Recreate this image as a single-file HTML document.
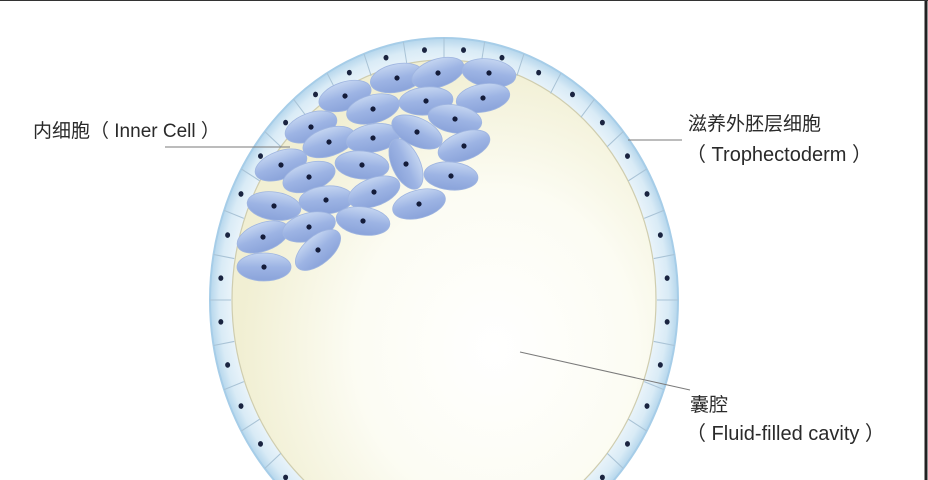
<!DOCTYPE html>
<html><head><meta charset="utf-8"><style>
html,body{margin:0;padding:0;background:#fff;width:928px;height:480px;overflow:hidden}
svg{display:block}
text{font-family:"Liberation Sans","Noto Sans CJK SC",sans-serif;fill:#2a2a2a}
</style></head><body>
<svg width="928" height="480" viewBox="0 0 928 480">
<defs>
<radialGradient id="cav" cx="0.62" cy="0.6" r="0.6">
<stop offset="0" stop-color="#ffffff"/><stop offset="0.55" stop-color="#fcfcf3"/><stop offset="1" stop-color="#f1efd3"/>
</radialGradient>
<radialGradient id="ring" cx="0.5" cy="0.5" r="0.5">
<stop offset="0.88" stop-color="#f2f8fc"/><stop offset="0.96" stop-color="#d9ebf6"/><stop offset="1" stop-color="#b5d6ec"/>
</radialGradient>
<linearGradient id="cell" x1="0" y1="0" x2="0" y2="1">
<stop offset="0" stop-color="#c4d5f1"/><stop offset="0.5" stop-color="#9db4e4"/><stop offset="1" stop-color="#8aa3da"/>
</linearGradient>
<line id="dv" x1="213" y1="0" x2="234" y2="0" stroke="#a9c3d6" stroke-width="1"/>
<circle id="dt" cx="224" cy="0" r="2.5" fill="#1a2440"/>
<g id="c"><ellipse rx="27" ry="14" fill="url(#cell)" stroke="#9fb5e0" stroke-width="0.8"/><circle r="2.6" fill="#141c3a"/></g>
</defs>
<ellipse cx="444" cy="300" rx="234" ry="262" fill="url(#ring)" stroke="#a6cde8" stroke-width="2"/>
<ellipse cx="444" cy="300" rx="212" ry="240" fill="url(#cav)" stroke="#cfcdaf" stroke-width="1.2"/>
<g transform="translate(444,300) scale(1,1.12)">
<use href="#dv" transform="rotate(-90)"/><use href="#dv" transform="rotate(-80)"/><use href="#dv" transform="rotate(-70)"/><use href="#dv" transform="rotate(-60)"/><use href="#dv" transform="rotate(-50)"/><use href="#dv" transform="rotate(-40)"/><use href="#dv" transform="rotate(-30)"/><use href="#dv" transform="rotate(-20)"/><use href="#dv" transform="rotate(-10)"/><use href="#dv" transform="rotate(0)"/><use href="#dv" transform="rotate(10)"/><use href="#dv" transform="rotate(20)"/><use href="#dv" transform="rotate(30)"/><use href="#dv" transform="rotate(40)"/><use href="#dv" transform="rotate(50)"/><use href="#dv" transform="rotate(60)"/><use href="#dv" transform="rotate(70)"/><use href="#dv" transform="rotate(80)"/><use href="#dv" transform="rotate(100)"/><use href="#dv" transform="rotate(110)"/><use href="#dv" transform="rotate(120)"/><use href="#dv" transform="rotate(130)"/><use href="#dv" transform="rotate(140)"/><use href="#dv" transform="rotate(150)"/><use href="#dv" transform="rotate(160)"/><use href="#dv" transform="rotate(170)"/><use href="#dv" transform="rotate(180)"/><use href="#dv" transform="rotate(190)"/><use href="#dv" transform="rotate(200)"/><use href="#dv" transform="rotate(210)"/><use href="#dv" transform="rotate(220)"/><use href="#dv" transform="rotate(230)"/><use href="#dv" transform="rotate(240)"/><use href="#dv" transform="rotate(250)"/><use href="#dv" transform="rotate(260)"/>
<use href="#dt" transform="rotate(-85)"/><use href="#dt" transform="rotate(-75)"/><use href="#dt" transform="rotate(-65)"/><use href="#dt" transform="rotate(-55)"/><use href="#dt" transform="rotate(-45)"/><use href="#dt" transform="rotate(-35)"/><use href="#dt" transform="rotate(-25)"/><use href="#dt" transform="rotate(-15)"/><use href="#dt" transform="rotate(-5)"/><use href="#dt" transform="rotate(5)"/><use href="#dt" transform="rotate(15)"/><use href="#dt" transform="rotate(25)"/><use href="#dt" transform="rotate(35)"/><use href="#dt" transform="rotate(45)"/><use href="#dt" transform="rotate(55)"/><use href="#dt" transform="rotate(65)"/><use href="#dt" transform="rotate(75)"/><use href="#dt" transform="rotate(105)"/><use href="#dt" transform="rotate(115)"/><use href="#dt" transform="rotate(125)"/><use href="#dt" transform="rotate(135)"/><use href="#dt" transform="rotate(145)"/><use href="#dt" transform="rotate(155)"/><use href="#dt" transform="rotate(165)"/><use href="#dt" transform="rotate(175)"/><use href="#dt" transform="rotate(185)"/><use href="#dt" transform="rotate(195)"/><use href="#dt" transform="rotate(205)"/><use href="#dt" transform="rotate(215)"/><use href="#dt" transform="rotate(225)"/><use href="#dt" transform="rotate(235)"/><use href="#dt" transform="rotate(245)"/><use href="#dt" transform="rotate(255)"/><use href="#dt" transform="rotate(265)"/>
</g>
<use href="#c" transform="translate(397,78) rotate(-12)"/>
<use href="#c" transform="translate(438,73) rotate(-18)"/>
<use href="#c" transform="translate(489,73) rotate(8)"/>
<use href="#c" transform="translate(345,96) rotate(-18)"/>
<use href="#c" transform="translate(373,109) rotate(-15)"/>
<use href="#c" transform="translate(426,101) rotate(-5)"/>
<use href="#c" transform="translate(483,98) rotate(-10)"/>
<use href="#c" transform="translate(311,127) rotate(-20)"/>
<use href="#c" transform="translate(455,119) rotate(10)"/>
<use href="#c" transform="translate(329,142) rotate(-18)"/>
<use href="#c" transform="translate(373,138) rotate(-10)"/>
<use href="#c" transform="translate(417,132) rotate(25)"/>
<use href="#c" transform="translate(281,165) rotate(-20)"/>
<use href="#c" transform="translate(464,146) rotate(-20)"/>
<use href="#c" transform="translate(362,165) rotate(5)"/>
<use href="#c" transform="translate(406,164) rotate(65)"/>
<use href="#c" transform="translate(309,177) rotate(-18)"/>
<use href="#c" transform="translate(451,176) rotate(5)"/>
<use href="#c" transform="translate(274,206) rotate(8)"/>
<use href="#c" transform="translate(326,200) rotate(-5)"/>
<use href="#c" transform="translate(374,192) rotate(-20)"/>
<use href="#c" transform="translate(419,204) rotate(-15)"/>
<use href="#c" transform="translate(363,221) rotate(8)"/>
<use href="#c" transform="translate(263,237) rotate(-20)"/>
<use href="#c" transform="translate(309,227) rotate(-15)"/>
<use href="#c" transform="translate(318,250) rotate(-40)"/>
<use href="#c" transform="translate(264,267) rotate(0)"/>
<line x1="165" y1="147" x2="290" y2="147" stroke="#7a7a7a" stroke-width="1"/>
<line x1="628" y1="140" x2="682" y2="140" stroke="#7a7a7a" stroke-width="1"/>
<line x1="520" y1="352" x2="690" y2="390" stroke="#7a7a7a" stroke-width="1"/>
<text x="33" y="137" font-size="19">内细胞（ Inner Cell ）</text>
<text x="688" y="130" font-size="19">滋养外胚层细胞</text>
<text x="686" y="161" font-size="20">（ Trophectoderm   ）</text>
<text x="690" y="411" font-size="19">囊腔</text>
<text x="686" y="440" font-size="20">（ Fluid-filled cavity ）</text>
<line x1="926" y1="0" x2="926" y2="480" stroke="#222" stroke-width="3"/>
<line x1="0" y1="0.5" x2="928" y2="0.5" stroke="#333" stroke-width="1"/>
</svg>
</body></html>
